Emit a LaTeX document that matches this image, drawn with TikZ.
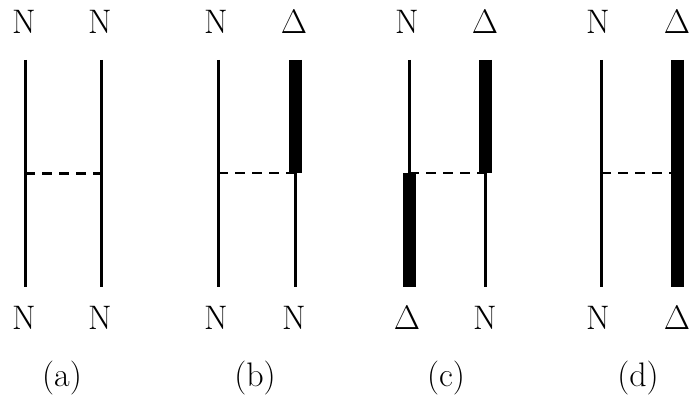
\RequirePackage{fix-cm}
\documentclass[tikz,border=0pt]{standalone}
\usepackage{amsmath}
\usetikzlibrary{positioning, calc}
\tikzset{
	lab/.style    ={inner sep=0pt, font=\fontsize{34}{40}\selectfont},
	wire/.style   ={line width=3pt},
	heavy/.style  ={line width=13pt, line cap=butt},
	rung/.style   ={line width=2.6pt, dash pattern=on 10pt off 7pt},
}

\begin{document}
\begin{tikzpicture}[x=1pt, y=-1pt]
	\useasboundingbox (0,0) rectangle (690,403);
	% (a)
	\node[lab] (a1) at (24,22) {N};
	\node[lab] (a2) at (100,22) {N};
	\node[lab] (a3) at (24,318) {N};
	\node[lab] (a4) at (100,318) {N};
	\node[lab] (acap) at (62,378) {(a)};
	\coordinate (at1) at (25,60);  \coordinate (ab1) at (25,287);
	\coordinate (at2) at (101,60); \coordinate (ab2) at (101,287);
	\draw[wire] (at1) -- (ab1);
	\draw[wire] (at2) -- (ab2);
	\draw[rung] ($(at1)!0.5!(ab1)$) -- ($(at2)!0.5!(ab2)$);
	% (b)
	\node[lab] (b1) at (216,22) {N};
	\node[lab] (b2) at (294,22) {$\Delta$};
	\node[lab] (b3) at (216,318) {N};
	\node[lab] (b4) at (294,318) {N};
	\node[lab] (bcap) at (255,378) {(b)};
	\coordinate (bt1) at (218,60);  \coordinate (bb1) at (218,287);
	\coordinate (bt2) at (295,60);  \coordinate (bb2) at (295,287);
	\coordinate (bm1) at (218,173); \coordinate (bm2) at (295,173);
	\draw[wire] (bt1) -- (bb1);
	\draw[heavy] (bt2) -- (bm2);
	\draw[wire] (bm2) -- (bb2);
	\draw[rung] (bm1) -- (bm2);
	% (c)
	\node[lab] (c1) at (407,22) {N};
	\node[lab] (c2) at (485,22) {$\Delta$};
	\node[lab] (c3) at (407,318) {$\Delta$};
	\node[lab] (c4) at (485,318) {N};
	\node[lab] (ccap) at (446,378) {(c)};
	\coordinate (ct1) at (409,60);  \coordinate (cb1) at (409,287);
	\coordinate (ct2) at (485,60);  \coordinate (cb2) at (485,287);
	\coordinate (cm1) at (409,173); \coordinate (cm2) at (485,173);
	\draw[wire] (ct1) -- (cm1);
	\draw[heavy] (cm1) -- (cb1);
	\draw[heavy] (ct2) -- (cm2);
	\draw[wire] (cm2) -- (cb2);
	\draw[rung] (cm1) -- (cm2);
	% (d)
	\node[lab] (d1) at (598,22) {N};
	\node[lab] (d2) at (677,22) {$\Delta$};
	\node[lab] (d3) at (598,318) {N};
	\node[lab] (d4) at (677,318) {$\Delta$};
	\node[lab] (dcap) at (638,378) {(d)};
	\coordinate (dt1) at (601,60);  \coordinate (db1) at (601,287);
	\coordinate (dt2) at (677,60);  \coordinate (db2) at (677,287);
	\coordinate (dm1) at (601,173); \coordinate (dm2) at (677,173);
	\draw[wire] (dt1) -- (db1);
	\draw[heavy] (dt2) -- (db2);
	\draw[rung] (dm1) -- (dm2);
\end{tikzpicture}
\end{document}
